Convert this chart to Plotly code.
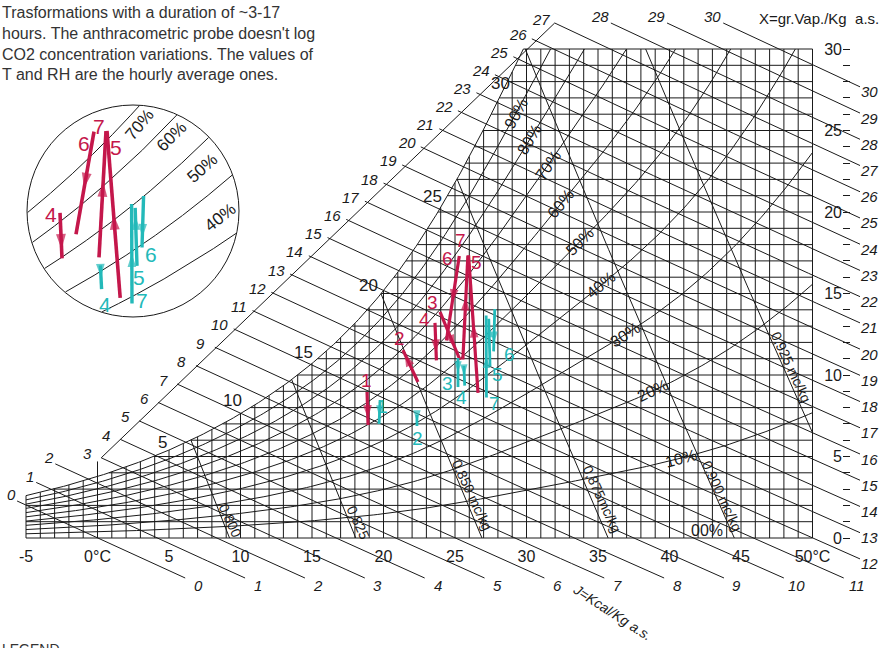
import numpy as np
import plotly.graph_objects as go

# ---------------------------------------------------------------- data
STEP_NAMES = ["1", "2", "3", "4", "5", "6", "7"]

# transformation start / end states (dry bulb °C, moisture content g/kg)
RED_T_START = [18.85, 22.41, 23.95, 23.60, 25.55, 25.30, 26.61]
RED_W_START = [8.96, 9.57, 13.87, 13.20, 10.95, 17.30, 8.90]
RED_T_END = [18.92, 21.36, 25.35, 23.70, 25.90, 24.40, 25.95]
RED_W_END = [6.93, 11.53, 10.92, 10.90, 17.33, 12.12, 17.34]

CYAN_T_START = [19.76, 22.34, 25.21, 25.62, 27.45, 27.78, 27.20]
CYAN_W_START = [8.47, 7.55, 11.04, 10.55, 10.52, 14.05, 8.62]
CYAN_T_END = [19.69, 22.34, 25.21, 25.68, 27.36, 27.70, 27.18]
CYAN_W_END = [6.99, 6.87, 9.26, 9.35, 13.45, 11.45, 13.65]

INSET_STEPS = ["4", "5", "6", "7"]

T_TICKS = [-5, 0, 5, 10, 15, 20, 25, 30, 35, 40, 45, 50]
T_TICK_TEXT = ["-5", "0°C", "5", "10", "15", "20", "25", "30", "35", "40", "45", "50°C"]
W_TICKS = list(range(0, 31))
W_TICK_TEXT = [str(w) if w % 5 == 0 else "" for w in W_TICKS]

RH_LEVELS = [0.1, 0.2, 0.3, 0.4, 0.5, 0.6, 0.7, 0.8, 0.9]
RH_TEXT = ["10%", "20%", "30%", "40%", "50%", "60%", "70%", "80%", "90%"]
J_LEVELS = list(range(0, 31))            # kcal/kg dry air
V_LEVELS = [0.800, 0.825, 0.850, 0.875, 0.900, 0.925]
V_TEXT = ["0,800", "0,825", "0,850 mc/kg", "0,875mc/kg", "0,900 mc/kg", "0,925 mc/kg"]
SAT_TEMPS = [5, 10, 15, 20, 25, 30]
INSET_RH = [0.4, 0.5, 0.6, 0.7, 0.8]
INSET_RH_TEXT = ["40%", "50%", "60%", "70%", ""]

T_MIN, T_MAX, W_MAX = -5, 50, 30
P_ATM = 101.325

# ---------------------------------------------------------------- page frame
W_PX, H_PX = 889, 648
X0, SX = 97.5, 14.3        # chart: x = X0 + SX*T
Y0, SY = 538.0, 16.3       #        y = Y0 - SY*w
IX0, ISX = -412.0, 20.0    # inset: x = IX0 + ISX*T
IY0, ISY = 474.2, 19.8     #        y = IY0 - ISY*w
CIRCLE = (133, 211, 106)   # inset disc centre / radius (px)

RED = "#c4174b"
CYAN = "#23b9b9"
INK = "#1a1a1a"
FONT = "Liberation Sans, Arial, sans-serif"


def T_of_px(px):
    return (px - X0) / SX


def w_of_py(py):
    return (Y0 - py) / SY


def paper(px, py):
    return px / W_PX, 1 - py / H_PX


# ---------------------------------------------------------------- psychrometrics
def p_sat(T):
    T = np.asarray(T, float)
    return 0.61094 * np.exp(17.625 * T / (T + 243.04))


def w_rh(T, rh):
    ps = rh * p_sat(T)
    return 622.0 * ps / (P_ATM - ps)


def w_drawn(T, rh):
    # moisture curves as drafted on this sheet: they bulge a little above the
    # ideal-gas values in the 20-40 °C band
    T = np.asarray(T, float)
    return w_rh(T, rh) * (1 + 0.12 * np.exp(-((T - 30.0) / 9.0) ** 2))


def w_enth(J, T):
    return (J - 0.24 * T) * 1000.0 / (597.0 + 0.46 * T)


def t_vol(v, w):
    return v * P_ATM / (0.287055 * (1 + 1.6078 * w / 1000.0)) - 273.15


def bisect(f, lo, hi, n=60):
    flo = f(lo)
    for _ in range(n):
        mid = 0.5 * (lo + hi)
        fm = f(mid)
        if (fm > 0) == (flo > 0):
            lo, flo = mid, fm
        else:
            hi = mid
    return 0.5 * (lo + hi)


def t_drawn(w, rh):
    return bisect(lambda T: float(w_drawn(T, rh)) - w, -40, 80)


fig = go.Figure()


def add_polylines(segs, color, width, xa="x", ya="y"):
    X, Y = [], []
    for xs, ys in segs:
        X += list(xs) + [None]
        Y += list(ys) + [None]
    fig.add_trace(go.Scatter(x=X, y=Y, mode="lines", xaxis=xa, yaxis=ya,
                             line=dict(color=color, width=width),
                             hoverinfo="skip", showlegend=False))


def text_at(px, py, txt, size, angle=0, color=INK, xanchor="center", yanchor="middle"):
    xp, yp = paper(px, py)
    fig.add_annotation(x=xp, y=yp, xref="paper", yref="paper", text=txt,
                       showarrow=False, textangle=angle, xanchor=xanchor,
                       yanchor=yanchor, font=dict(family=FONT, size=size, color=color))


# ---------------------------------------------------------------- enthalpy label line
def label_line_y(px, J):
    if J <= 2:
        return 503 - 0.97 * (px - 15)
    if px > 548:
        return 23.0
    return 315 - 0.973 * (px - 248)


# ---------------------------------------------------------------- grid
grid = []
for T in range(T_MIN, T_MAX + 1):
    top = min(float(w_drawn(T, 1.0)), W_MAX)
    if T == 0:   # the 0 °C isotherm runs up to the enthalpy scale
        top = w_of_py(label_line_y(X0, 3))
    grid.append(([T, T], [0, top]))
for w in W_TICKS:
    t0 = T_MIN if w == 0 else max(T_MIN, t_drawn(w, 1.0))
    grid.append(([t0, T_MAX], [w, w]))
add_polylines(grid, INK, 1)

# saturation + relative humidity curves
curves = []
for rh in [1.0] + RH_LEVELS:
    t_end = T_MAX if w_drawn(T_MAX, rh) <= W_MAX else t_drawn(W_MAX, rh)
    Ts = np.linspace(T_MIN, t_end, 200)
    curves.append((Ts, w_drawn(Ts, rh)))
add_polylines(curves, INK, 1)

# ---------------------------------------------------------------- enthalpy lines
enth = []
W_BELOW = w_of_py(578)
T_RIGHT = T_of_px(860)
ul_ends = []
for J in J_LEVELS:
    def f(T, J=J):
        px = X0 + SX * T
        py = Y0 - SY * w_enth(J, T)
        return py - label_line_y(px, J)
    t_ul = bisect(f, -12, 60)
    t_lr = min(T_RIGHT, bisect(lambda T, J=J: w_enth(J, T) - W_BELOW, -10, 80))
    Ts = np.linspace(t_ul, t_lr, 40)
    enth.append((Ts, w_enth(J, Ts)))
    ux, uy = X0 + SX * t_ul, Y0 - SY * w_enth(J, t_ul)
    lx, ly = X0 + SX * t_lr, Y0 - SY * w_enth(J, t_lr)
    if 3 <= J <= 27:
        ul_ends.append((t_ul, w_enth(J, t_ul)))
    if J <= 2:
        text_at(ux - 6, uy - 6, f"<i>{J}</i>", 15)
    elif J <= 27:
        text_at(ux - 14, uy - 4, f"<i>{J}</i>", 15)
    else:
        text_at(ux - 11, uy - 7, f"<i>{J}</i>", 15)
    if lx < 850:
        text_at(lx + 13, ly + 7, f"<i>{J}</i>", 15)
    else:
        text_at(lx + 9, ly + 5, f"<i>{J}</i>", 15)
add_polylines(enth, INK, 1)
# the scale line the enthalpy lines start from
add_polylines([([ul_ends[0][0], ul_ends[-1][0]], [ul_ends[0][1], ul_ends[-1][1]])], INK, 1)

# ---------------------------------------------------------------- specific volume lines
vol = []
for v in V_LEVELS:
    w_start = 0.0
    if t_vol(v, 0) > T_MAX:
        w_start = bisect(lambda w: t_vol(v, w) - T_MAX, 0, 30)
    w_top = bisect(lambda w: float(w_drawn(t_vol(v, w), 1.0)) - w, 0.0, 30)
    ws = np.linspace(w_start, min(w_top, W_MAX), 40)
    vol.append((t_vol(v, ws), ws))
add_polylines(vol, INK, 1)

V_LABEL_PX = [(230, 520), (358, 522), (472, 495), (602, 499), (722, 496), (791, 367)]
for (px, py), txt in zip(V_LABEL_PX, V_TEXT):
    text_at(px, py, txt, 14, 65)

# ---------------------------------------------------------------- labels on the chart
# relative humidity labels sit on their curve, near these points of the sheet
RH_LABEL_NEAR = [(680, 455), (655, 395), (627, 337), (603, 287), (585, 247),
                 (565, 207), (552, 168), (533, 142), (522, 117)]
Ts_fine = np.linspace(T_MIN, T_MAX, 2200)
for rh, txt, (nx, ny) in zip(RH_LEVELS, RH_TEXT, RH_LABEL_NEAR):
    px = X0 + SX * Ts_fine
    py = Y0 - SY * w_drawn(Ts_fine, rh)
    k = int(np.argmin((px - nx) ** 2 + (py - ny) ** 2))
    k0, k1 = max(k - 20, 0), min(k + 20, len(px) - 1)
    ang = np.degrees(np.arctan2(py[k1] - py[k0], px[k1] - px[k0]))
    text_at(px[k], py[k], txt, 16, float(ang))
text_at(707, 530, "00%", 16)

SAT_LABEL_OFF = [(-7, -8), (-8, -13), (-9, -12), (-15, -14), (-23, -15), (-26, -12)]
for T, (dx, dy) in zip(SAT_TEMPS, SAT_LABEL_OFF):
    text_at(X0 + SX * T + dx, Y0 - SY * float(w_rh(T, 1.0)) + dy, str(T), 17)

text_at(612, 612, "<i>J=Kcal/Kg a.s.</i>", 14, 33)
text_at(757, 18, "X=gr.Vap./Kg  a.s.", 15, xanchor="left")
text_at(0, 2, ("Trasformations with a duration of ~3-17<br>"
               "hours. The anthracometric probe doesn't log<br>"
               "CO2 concentration variations. The values of<br>"
               "T and RH are the hourly average ones."),
        16, color="#333333", xanchor="left", yanchor="top")
fig.layout.annotations[-1].align = "left"
text_at(0, 639, "LEGEND", 14, color="#333333", xanchor="left", yanchor="top")

# ---------------------------------------------------------------- transformations
HEAD_AT = [0.8, 0.9, 0.75, 0.8, 0.6, 0.55, 0.5]
CYAN_HEAD_AT = [0.7, 0.6, 0.5, 0.5, 0.85, 0.8, 0.5]


def add_arrows(t0, w0, t1, w1, color, width, head, heads, xa, ya, keep=None):
    for i, name in enumerate(STEP_NAMES):
        if keep is not None and name not in keep:
            continue
        fr = heads[i]
        tm = t0[i] + fr * (t1[i] - t0[i])
        wm = w0[i] + fr * (w1[i] - w0[i])
        fig.add_trace(go.Scatter(
            x=[t0[i], tm, t1[i]], y=[w0[i], wm, w1[i]], mode="lines+markers",
            xaxis=xa, yaxis=ya, line=dict(color=color, width=width),
            marker=dict(symbol="arrow", size=[0, head, 0], angleref="previous",
                        color=color, line=dict(width=0)),
            hoverinfo="skip", showlegend=False))


add_arrows(RED_T_START, RED_W_START, RED_T_END, RED_W_END, RED, 3.2, 14, HEAD_AT, "x", "y")
add_arrows(CYAN_T_START, CYAN_W_START, CYAN_T_END, CYAN_W_END, CYAN, 2.8, 12,
           CYAN_HEAD_AT, "x", "y")

# step numbers, offset (px) from the upper (red) / lower (cyan) end of each arrow
RED_NUM_OFF = [(-1, -11), (-3, -12), (-7, -9), (-10, -3), (9, 7), (-12, 2), (-8, -15)]
CYAN_NUM_OFF = [(3, -18), (1, 12), (-11, -4), (-3, 12), (7, 8), (16, 3), (8, 6)]


def step_labels(t0, w0, t1, w1, offs, color, upper, ix0, isx, iy0, isy, size, keep=None):
    for i, name in enumerate(STEP_NAMES):
        if keep is not None and name not in keep:
            continue
        if (w0[i] > w1[i]) == upper:
            T, w = t0[i], w0[i]
        else:
            T, w = t1[i], w1[i]
        text_at(ix0 + isx * T + offs[i][0], iy0 - isy * w + offs[i][1], name, size,
                color=color)


step_labels(RED_T_START, RED_W_START, RED_T_END, RED_W_END, RED_NUM_OFF, RED, True,
            X0, SX, Y0, SY, 19)
step_labels(CYAN_T_START, CYAN_W_START, CYAN_T_END, CYAN_W_END, CYAN_NUM_OFF, CYAN, False,
            X0, SX, Y0, SY, 19)

# ---------------------------------------------------------------- magnified inset
cx, cy, cr = CIRCLE
fig.add_shape(type="circle", xref="paper", yref="paper", layer="below",
              x0=(cx - cr) / W_PX, x1=(cx + cr) / W_PX,
              y0=1 - (cy + cr) / H_PX, y1=1 - (cy - cr) / H_PX,
              line=dict(color=INK, width=1), fillcolor="white")

inset_segs = []
for rh in INSET_RH:
    Ts = np.linspace(18, 36, 1800)
    ws = w_rh(Ts, rh)
    px = IX0 + ISX * Ts
    py = IY0 - ISY * ws
    inside = (px - cx) ** 2 + (py - cy) ** 2 <= (cr - 0.5) ** 2
    inset_segs.append((Ts[inside], ws[inside]))
add_polylines(inset_segs, INK, 1, "x2", "y2")

INSET_RH_LABEL_PX = [(220, 217, -38), (202, 168, -42), (172, 137, -45), (140, 125, -50)]
for (px, py, ang), txt in zip(INSET_RH_LABEL_PX, INSET_RH_TEXT):
    text_at(px, py, txt, 17, ang)

add_arrows(RED_T_START, RED_W_START, RED_T_END, RED_W_END, RED, 3.6, 16, HEAD_AT,
           "x2", "y2", keep=INSET_STEPS)
add_arrows(CYAN_T_START, CYAN_W_START, CYAN_T_END, CYAN_W_END, CYAN, 3.4, 14,
           CYAN_HEAD_AT, "x2", "y2", keep=INSET_STEPS)

INSET_RED_OFF = [(0, 0), (0, 0), (0, 0), (-9, 2), (10, 16), (-10, 12), (-8, -4)]
INSET_CYAN_OFF = [(0, 0), (0, 0), (0, 0), (3, 15), (2, 12), (9, 7), (10, -3)]
step_labels(RED_T_START, RED_W_START, RED_T_END, RED_W_END, INSET_RED_OFF, RED, True,
            IX0, ISX, IY0, ISY, 21, keep=INSET_STEPS)
step_labels(CYAN_T_START, CYAN_W_START, CYAN_T_END, CYAN_W_END, INSET_CYAN_OFF, CYAN, False,
            IX0, ISX, IY0, ISY, 21, keep=INSET_STEPS)

# ---------------------------------------------------------------- axes
x_rng = [T_of_px(0), T_of_px(W_PX)]
y_rng = [w_of_py(H_PX), w_of_py(0)]
fig.update_layout(
    width=W_PX, height=H_PX, margin=dict(l=0, r=0, t=0, b=0),
    paper_bgcolor="white", plot_bgcolor="white", showlegend=False,
    xaxis=dict(range=x_rng, domain=[0, 1], anchor="free", position=1 - Y0 / H_PX,
               tickvals=T_TICKS, ticktext=T_TICK_TEXT, ticks="", showgrid=False,
               zeroline=False, showline=False, ticklabelstandoff=7,
               tickfont=dict(family=FONT, size=16, color=INK)),
    yaxis=dict(range=y_rng, domain=[0, 1], visible=False),
    xaxis2=dict(range=[(0 - IX0) / ISX, (W_PX - IX0) / ISX], domain=[0, 1],
                overlaying="x", anchor="y2", visible=False),
    yaxis2=dict(range=[(IY0 - H_PX) / ISY, IY0 / ISY], domain=[0, 1],
                overlaying="y", anchor="x2", visible=False),
    yaxis3=dict(range=y_rng, domain=[0, 1], overlaying="y", anchor="free",
                position=842 / W_PX, side="left", ticks="inside", ticklen=7,
                tickwidth=1, tickcolor=INK, tickvals=W_TICKS, ticktext=W_TICK_TEXT,
                showgrid=False, zeroline=False, showline=False,
                tickfont=dict(family=FONT, size=16, color=INK)),
)
fig.add_trace(go.Scatter(x=[None], y=[None], yaxis="y3", showlegend=False))

fig.write_html("out.html")
